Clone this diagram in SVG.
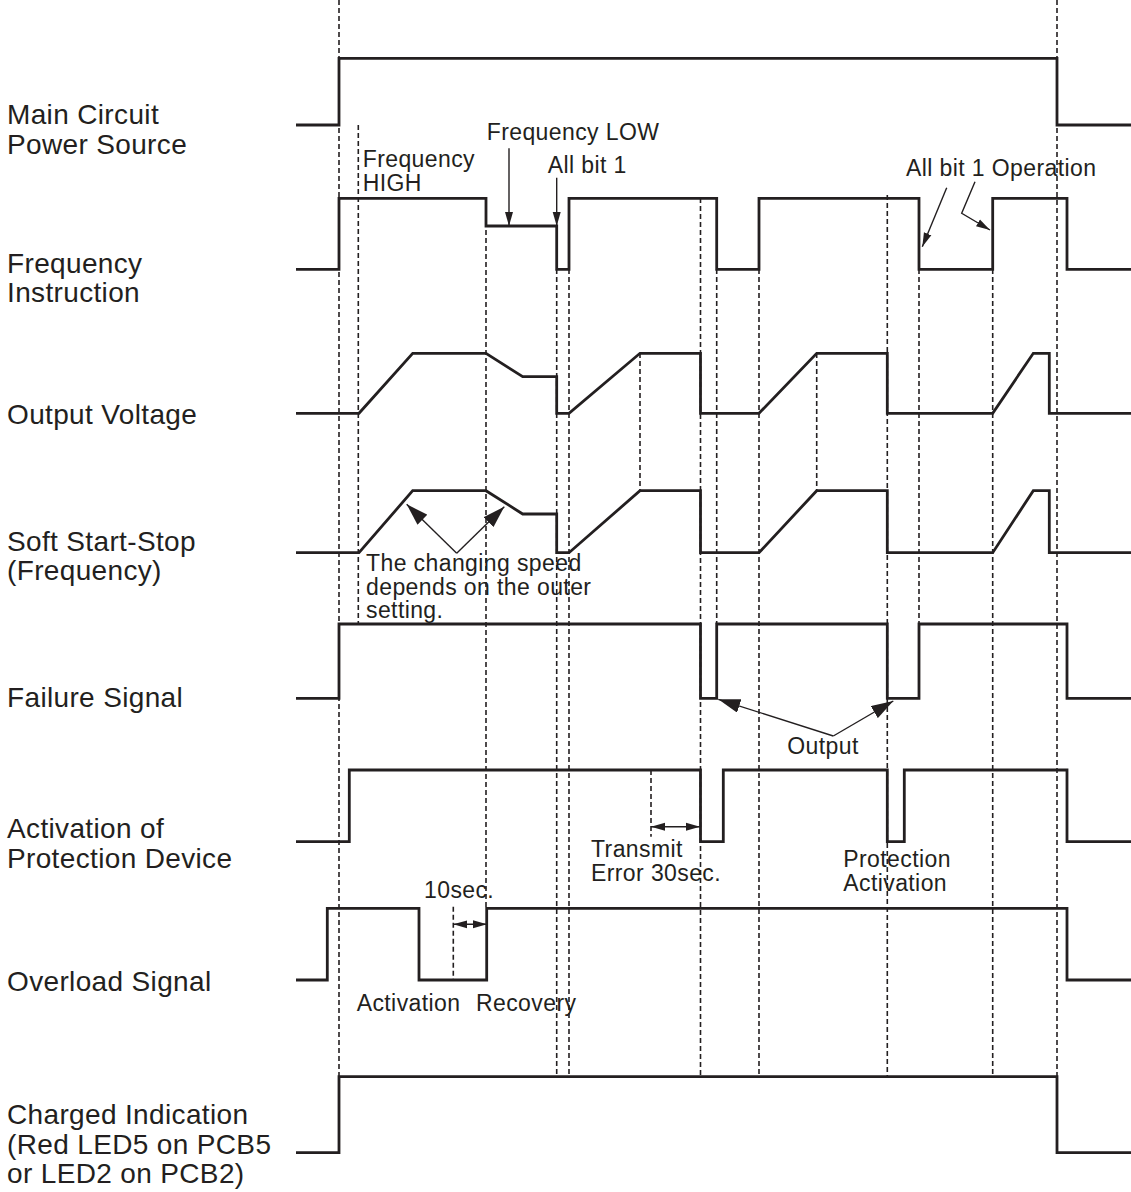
<svg xmlns="http://www.w3.org/2000/svg" width="1131" height="1192" viewBox="0 0 1131 1192">
<defs>
<style>
.sig{fill:none;stroke:#231f20;stroke-width:2.8;stroke-linejoin:miter;stroke-linecap:butt}
.guide{fill:none;stroke:#231f20;stroke-width:1.6;stroke-dasharray:5 3}
.arr{fill:none;stroke:#231f20;stroke-width:1.4}
.lbl{font-family:"Liberation Sans",Arial,Helvetica,sans-serif;font-size:28px;letter-spacing:0.35px;fill:#231f20}
.ann{font-family:"Liberation Sans",Arial,Helvetica,sans-serif;font-size:23px;letter-spacing:0.4px;fill:#231f20}
</style>
<marker id="ah" markerUnits="userSpaceOnUse" markerWidth="15" markerHeight="9" refX="14" refY="4" orient="auto-start-reverse" viewBox="0 0 15 8">
<path d="M0,0 L14,4 L0,8 z" fill="#231f20"/>
</marker>
<marker id="ahL" markerUnits="userSpaceOnUse" markerWidth="23" markerHeight="14" refX="22" refY="7" orient="auto" viewBox="0 0 23 14">
<path d="M0,0 L22,7 L0,14 z" fill="#231f20"/>
</marker>
</defs>
<rect width="1131" height="1192" fill="#ffffff"/>

<g id="guides">
<line class="guide" x1="339" y1="0" x2="339" y2="1076.7"/>
<line class="guide" x1="358.3" y1="125" x2="358.3" y2="624"/>
<line class="guide" x1="486" y1="198" x2="486" y2="908"/>
<line class="guide" x1="556.7" y1="269" x2="556.7" y2="1076.7"/>
<line class="guide" x1="569" y1="269" x2="569" y2="1076.7"/>
<line class="guide" x1="640" y1="353" x2="640" y2="490.7"/>
<line class="guide" x1="700.5" y1="198" x2="700.5" y2="1076.7"/>
<line class="guide" x1="716.7" y1="269" x2="716.7" y2="624"/>
<line class="guide" x1="759" y1="269" x2="759" y2="1076.7"/>
<line class="guide" x1="816.7" y1="353" x2="816.7" y2="490.7"/>
<line class="guide" x1="887.3" y1="195" x2="887.3" y2="1076.7"/>
<line class="guide" x1="919" y1="269" x2="919" y2="624"/>
<line class="guide" x1="992.7" y1="269" x2="992.7" y2="1076.7"/>
<line class="guide" x1="1057" y1="0" x2="1057" y2="1076.7"/>
<line class="guide" x1="651" y1="770" x2="651" y2="836.7"/>
<line class="guide" x1="453.3" y1="906.7" x2="453.3" y2="980"/>
</g>

<g id="main-circuit-power-source">
<text class="lbl" x="7" y="124.3">Main Circuit</text>
<text class="lbl" x="7" y="154">Power Source</text>
<path class="sig" d="M296,125 H339 V58.3 H1057 V125 H1131"/>
</g>

<g id="frequency-instruction">
<text class="lbl" x="7" y="272.7">Frequency</text>
<text class="lbl" x="7" y="302">Instruction</text>
<path class="sig" d="M296,269.3 H339 V198.3 H486 V226 H556.7 V269.3 H569 V198.3 H716.7 V269.3 H759 V198.3 H919 V269.3 H992.7 V198.3 H1067 V269.3 H1131"/>
<text class="ann" x="362.7" y="166.7">Frequency</text>
<text class="ann" x="362.7" y="190.5">HIGH</text>
<text class="ann" x="486.7" y="139.5">Frequency LOW</text>
<text class="ann" x="547.7" y="172.7">All bit 1</text>
<text class="ann" x="906" y="175.5">All bit 1 Operation</text>
</g>

<g id="output-voltage">
<text class="lbl" x="7" y="424">Output Voltage</text>
<path class="sig" d="M296,413.3 H359 L412.7,353.3 H486 L522.7,376.7 H556.7 V413.3 H569 L640,353.3 H700.5 V413.3 H759 L816.7,353.3 H887.3 V413.3 H992.7 L1033.3,353.3 H1049.3 V413.3 H1131"/>
</g>

<g id="soft-start-stop">
<text class="lbl" x="7" y="551">Soft Start-Stop</text>
<text class="lbl" x="7" y="580">(Frequency)</text>
<path class="sig" d="M296,552.7 H359 L412.7,490.7 H486 L522.7,514 H556.7 V552.7 H569 L640,490.7 H700.5 V552.7 H759 L816.7,490.7 H887.3 V552.7 H992.7 L1033.3,490.7 H1049.3 V552.7 H1131"/>
<text class="ann" x="366" y="571">The changing speed</text>
<text class="ann" x="366" y="594.5">depends on the outer</text>
<text class="ann" x="366" y="618">setting.</text>
</g>

<g id="failure-signal">
<text class="lbl" x="7" y="707">Failure Signal</text>
<path class="sig" d="M296,698.3 H339 V624 H700.5 V698.3 H716.7 V624 H887.3 V698.3 H919 V624 H1067 V698.3 H1131"/>
<text class="ann" x="787.3" y="753.5">Output</text>
</g>

<g id="activation-of-protection-device">
<text class="lbl" x="7" y="837.7">Activation of</text>
<text class="lbl" x="7" y="867.7">Protection Device</text>
<path class="sig" d="M296,841.7 H349.3 V770 H700.5 V841.7 H723.3 V770 H887.3 V841.7 H904.3 V770 H1067 V841.7 H1131"/>
<text class="ann" x="591" y="856.7">Transmit</text>
<text class="ann" x="591" y="881">Error 30sec.</text>
<text class="ann" x="843.3" y="866.7">Protection</text>
<text class="ann" x="843.3" y="891">Activation</text>
</g>

<g id="overload-signal">
<text class="lbl" x="7" y="991">Overload Signal</text>
<path class="sig" d="M296,980 H327.3 V908.3 H419 V980 H486.7 V908.3 H1067 V980 H1131"/>
<text class="ann" x="424" y="898">10sec.</text>
<text class="ann" x="356.7" y="1011">Activation</text>
<text class="ann" x="476" y="1011">Recovery</text>
</g>

<g id="charged-indication">
<text class="lbl" x="7" y="1124.3">Charged Indication</text>
<text class="lbl" x="7" y="1154">(Red LED5 on PCB5</text>
<text class="lbl" x="7" y="1183.3">or LED2 on PCB2)</text>
<path class="sig" d="M296,1152.7 H339 V1076.7 H1057 V1152.7 H1131"/>
</g>

<g id="connectors">
<line class="arr" x1="509" y1="148.3" x2="509" y2="226" marker-end="url(#ah)"/>
<line class="arr" x1="556.7" y1="177.7" x2="556.7" y2="226" marker-end="url(#ah)"/>
<line class="arr" x1="946.7" y1="187.7" x2="922.3" y2="246.7" marker-end="url(#ah)"/>
<polyline class="arr" points="975,181.7 961.7,213.3 990,230" marker-end="url(#ah)"/>
<line class="arr" x1="456.7" y1="553.3" x2="406.7" y2="504.3" marker-end="url(#ahL)"/>
<line class="arr" x1="456.7" y1="553.3" x2="504.3" y2="506.7" marker-end="url(#ahL)"/>
<line class="arr" x1="833.3" y1="736" x2="718.3" y2="699.3" marker-end="url(#ahL)"/>
<line class="arr" x1="833.3" y1="736" x2="893.3" y2="701" marker-end="url(#ahL)"/>
<line class="arr" x1="651" y1="826.7" x2="700" y2="826.7" marker-start="url(#ah)" marker-end="url(#ah)"/>
<line class="arr" x1="453.3" y1="924.3" x2="487" y2="924.3" marker-start="url(#ah)" marker-end="url(#ah)"/>
</g>
</svg>
